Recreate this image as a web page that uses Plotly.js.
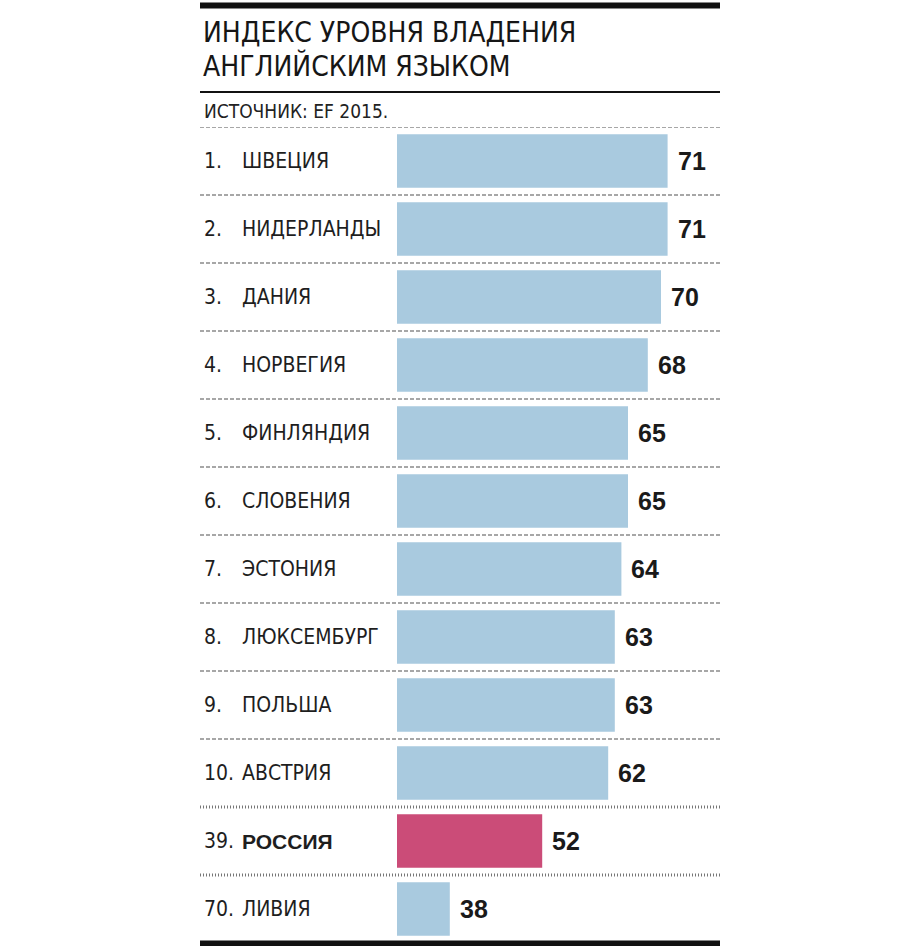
<!DOCTYPE html>
<html><head><meta charset="utf-8">
<script src="https://cdn.plot.ly/plotly-3.0.1.min.js"></script>
<style>body{margin:0;background:#fff}#chart{width:920px;height:946px}</style>
</head><body><div id="chart"></div>
<script>
const ranks = ["1.", "2.", "3.", "4.", "5.", "6.", "7.", "8.", "9.", "10.", "39.", "70."];
const countries = ["ШВЕЦИЯ", "НИДЕРЛАНДЫ", "ДАНИЯ", "НОРВЕГИЯ", "ФИНЛЯНДИЯ", "СЛОВЕНИЯ", "ЭСТОНИЯ", "ЛЮКСЕМБУРГ", "ПОЛЬША", "АВСТРИЯ", "РОССИЯ", "ЛИВИЯ"];
const values = [71, 71, 70, 68, 65, 65, 64, 63, 63, 62, 52, 38];
const highlight = "РОССИЯ";
const titleLines = ["ИНДЕКС УРОВНЯ ВЛАДЕНИЯ", "АНГЛИЙСКИМ ЯЗЫКОМ"];
const sourceText = "ИСТОЧНИК: EF 2015.";

const NARROW = "'DejaVu Sans Condensed', 'Liberation Sans Narrow', Roboto, sans-serif";
const BOLD = "'Liberation Sans', Arial, sans-serif";
const blue = "#a9cadf", pink = "#cb4c78";

const plotL = 397, plotR = 720, plotT = 127, plotB = 943;
const pw = plotR - plotL, ph = plotB - plotT;
const px2x = p => (p - plotL) / pw;
const py2y = p => (plotB - p) / ph;
const axisStart = 30;

const trace = {
  type: "bar", orientation: "h",
  x: values, y: countries,
  marker: {color: countries.map(c => c === highlight ? pink : blue), line: {width: 0}},
  hoverinfo: "skip", width: 0.79
};

const annotations = [];
titleLines.forEach((t, i) => annotations.push({
  text: t, xref: "paper", yref: "paper", x: px2x(201), y: py2y(i === 0 ? 33 : 66),
  xanchor: "left", yanchor: "middle", showarrow: false,
  font: {family: NARROW, size: 28, color: "#161616"}
}));
annotations.push({
  text: sourceText, xref: "paper", yref: "paper", x: px2x(202), y: py2y(111),
  xanchor: "left", yanchor: "middle", showarrow: false,
  font: {family: NARROW, size: 19, color: "#222"}
});
countries.forEach((c, i) => {
  const hl = c === highlight;
  annotations.push({
    text: ranks[i], xref: "paper", yref: "y", x: px2x(202), y: c,
    xanchor: "left", yanchor: "middle", showarrow: false,
    font: {family: NARROW, size: 21, color: "#1e1e1e"}
  });
  annotations.push({
    text: hl ? "<b>" + c + "</b>" : c, xref: "paper", yref: "y", x: px2x(240), y: c,
    xanchor: "left", yanchor: "middle", showarrow: false,
    font: {family: hl ? BOLD : NARROW, size: hl ? 21 : 21, color: "#1e1e1e"}
  });
  annotations.push({
    text: "<b>" + values[i] + "</b>", xref: "x", yref: "y", x: values[i], y: c,
    xanchor: "left", yanchor: "middle", xshift: 8, showarrow: false,
    font: {family: BOLD, size: 25, color: "#1a1a1a"}
  });
});

const shapes = [];
shapes.push({type: "line", xref: "paper", yref: "paper", x0: px2x(200), x1: px2x(720), y0: py2y(5.5), y1: py2y(5.5), line: {color: "#111", width: 6}});
shapes.push({type: "line", xref: "paper", yref: "paper", x0: px2x(200), x1: px2x(720), y0: py2y(92), y1: py2y(92), line: {color: "#111", width: 2}});
shapes.push({type: "line", xref: "paper", yref: "paper", x0: px2x(200), x1: px2x(720), y0: py2y(943.5), y1: py2y(943.5), line: {color: "#111", width: 6}});
for (let k = -1; k < countries.length - 1; k++) {
  const dotted = k >= countries.length - 3;
  shapes.push({type: "line", xref: "paper", yref: "y", x0: px2x(200), x1: px2x(720), y0: k + 0.5, y1: k + 0.5,
    line: {color: dotted ? "#777" : "#8a8a8a", width: dotted ? 3 : 1.5, dash: dotted ? "1px,2px" : "4px,2px"}});
}

const layout = {
  width: 920, height: 946,
  margin: {l: plotL, r: 920 - plotR, t: plotT, b: 946 - plotB, pad: 0},
  paper_bgcolor: "#fff", plot_bgcolor: "#fff",
  showlegend: false,
  xaxis: {range: [axisStart, axisStart + pw / 6.6], visible: false, fixedrange: true},
  yaxis: {type: "category", range: [countries.length - 0.5, -0.5], visible: false, fixedrange: true},
  annotations, shapes
};
Plotly.newPlot("chart", [trace], layout, {staticPlot: true, displayModeBar: false});
</script></body></html>
